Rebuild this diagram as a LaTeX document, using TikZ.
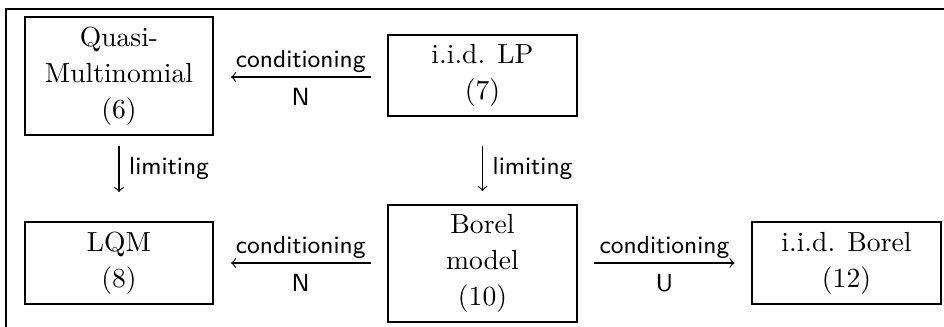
\documentclass[tikz,border=0pt]{standalone}
\begin{document}
\begin{tikzpicture}[x=0.3623pt,y=-0.3623pt,
  box/.style={draw, line width=0.85pt, minimum width=68.3pt, align=center, inner sep=0pt},
  tall/.style={minimum height=42.6pt},
  short/.style={minimum height=29.5pt},
  arr/.style={->, >=to, line width=0.4pt},
  lab/.style={font=\small\sffamily, inner sep=1.5pt}]
\useasboundingbox (0,0) rectangle (944,327);
\draw[line width=1pt] (6,340) -- (6,9) -- (960,9);
\node[box,tall]  (qm)  at (119,76)    {Quasi-\\[1pt]Multinomial\\[1pt](6)};
\node[box,short] (lp)  at (482.5,75.5) {i.i.d. LP\\[1pt](7)};
\node[box,short] (lqm) at (119,263)   {LQM\\[1pt](8)};
\node[box,tall]  (bm)  at (482.5,263.5) {Borel\\[1pt]model\\[1pt](10)};
\node[box,short] (ib)  at (846.5,263) {i.i.d. Borel\\[1pt](12)};
\draw[arr] ([xshift=-6pt]lp.west |- 0,77) -- ([xshift=6pt]qm.east |- 0,77)
  node[lab, midway, above] {conditioning} node[lab, midway, below=2.5pt] {N};
\draw[arr] ([xshift=-6pt]bm.west |- 0,263) -- ([xshift=6pt]lqm.east |- 0,263)
  node[lab, midway, above] {conditioning} node[lab, midway, below=2.5pt] {N};
\draw[arr] ([xshift=6pt]bm.east |- 0,263) -- ([xshift=-6pt]ib.west |- 0,263)
  node[lab, midway, above] {conditioning} node[lab, midway, below=2.5pt] {U};
\draw[arr] ([yshift=-3.5pt]qm.south) -- ([yshift=10.5pt]lqm.north)
  node[lab, midway, right=2pt] {limiting};
\draw[arr] ([yshift=-10.5pt]lp.south) -- ([yshift=4.5pt]bm.north)
  node[lab, midway, right=2pt] {limiting};
\end{tikzpicture}
\end{document}
